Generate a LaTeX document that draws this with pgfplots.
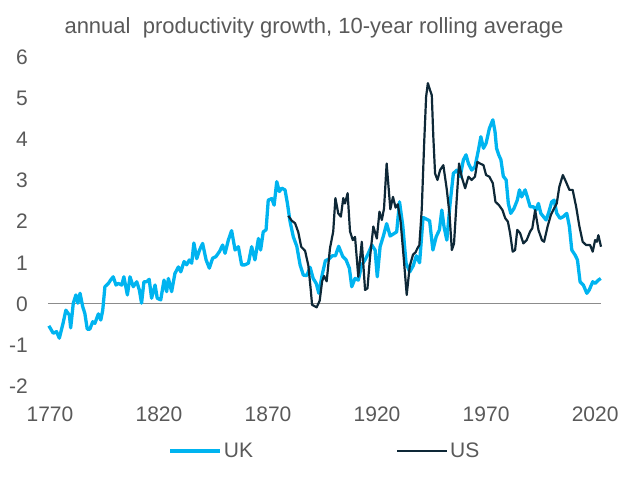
\documentclass[border=0pt]{standalone}
\usepackage{pgfplots}
\pgfplotsset{compat=1.18}
\usepackage{fontspec}
\setmainfont{Liberation Sans}
\definecolor{ukc}{HTML}{00B4F0}
\definecolor{usc}{HTML}{0E2837}
\definecolor{txt}{HTML}{595959}
\definecolor{zl}{HTML}{8C8C8C}
\begin{document}
\begin{tikzpicture}
\begin{axis}[
  scale only axis, width=553pt, height=329.6pt,
  xmin=1769.1, xmax=2022.7, ymin=-2, ymax=6,
  axis line style={draw=none}, tick style={draw=none},
  xtick={1770,1820,1870,1920,1970,2020},
  xticklabels={1770,1820,1870,1920,1970,2020},
  ytick={-2,-1,0,1,2,3,4,5,6},
  yticklabels={-2,-1,0,1,2,3,4,5,6},
  ticklabel style={font=\fontsize{21}{25}\selectfont, text=txt, inner sep=0pt},
  yticklabel style={anchor=east, xshift=-20pt},
  xticklabel style={anchor=north, yshift=-20.6pt},
  legend columns=2,
  legend style={at={(0.5009,-0.196)}, anchor=center, draw=none, fill=none,
    font=\fontsize{21}{25}\selectfont, text=txt,
    /tikz/every even column/.append style={column sep=141pt}},
  legend image code/.code={\draw[#1] (0pt,0pt) -- (50pt,0pt);},
  clip=false,
]
\draw[zl, line width=1pt] (axis cs:1769.1,0) -- (axis cs:2022.7,0);
\addplot[ukc, line width=3.3pt, line join=round] coordinates {
(1769.5,-0.53) (1771.5,-0.71) (1773,-0.67) (1774.3,-0.83) (1776,-0.47) (1777.3,-0.15)
(1778.9,-0.27) (1779.5,-0.58) (1780.7,0.02) (1781.9,0.22) (1782.8,0.02) (1783.8,0.26)
(1785,-0.06) (1786,-0.23) (1787.1,-0.61) (1788.3,-0.61) (1789.6,-0.43) (1790.6,-0.47)
(1792.2,-0.24) (1793.3,-0.39) (1794.2,-0.15) (1795.2,0.42) (1796.8,0.5) (1797.8,0.58)
(1799,0.66) (1800.3,0.46) (1801.3,0.5) (1802.9,0.46) (1803.9,0.66) (1805.5,0.22)
(1806.7,0.66) (1808.2,0.42) (1809.8,0.54) (1811,0.34) (1812,0.02) (1813.1,0.54)
(1814.4,0.54) (1815.5,0.6) (1816.6,0.14) (1818.2,0.46) (1819.2,0.14) (1820.8,0.1)
(1822.3,0.58) (1823.5,0.3) (1824.3,0.62) (1825.8,0.3) (1827.3,0.74) (1828.9,0.9)
(1830,0.78) (1831.5,1.03) (1832.7,0.95) (1833.9,1.07) (1835,0.99) (1836,1.48)
(1837.3,1.1) (1838.6,1.31) (1840,1.47) (1841.6,1.07) (1843.1,0.87) (1844.6,1.11)
(1846.1,1.15) (1847.7,1.27) (1849.2,1.43) (1850.3,1.23) (1851.8,1.55) (1853.3,1.78)
(1854.9,1.31) (1856.4,1.39) (1857.9,0.95) (1859.4,0.95) (1861,0.99) (1862.5,1.39)
(1864,1.07) (1865.6,1.59) (1866.6,1.31) (1867.8,1.75) (1869.1,1.8) (1870.1,2.52)
(1871.7,2.56) (1872.8,2.4) (1874,2.97) (1875.2,2.73) (1876.3,2.81) (1877.8,2.77)
(1878.9,2.44) (1880.1,2.0) (1881.6,1.63) (1883.2,1.4) (1884.7,0.95) (1886.2,0.7)
(1887.8,0.69) (1889.3,0.89) (1890.7,0.62) (1892.1,0.5) (1893.3,0.26) (1894.8,0.7)
(1896.3,1.05) (1897.9,1.09) (1899.4,1.17) (1900.9,1.17) (1902.4,1.4) (1904.3,1.15)
(1905.8,1.07) (1907.3,0.87) (1908.4,0.42) (1909.9,0.62) (1911.4,0.58) (1913,0.95)
(1914.5,1.07) (1916,1.23) (1917.6,1.43) (1919.1,1.31) (1920.1,0.66) (1921.4,1.39)
(1922.9,1.65) (1924.4,1.95) (1926,1.65) (1927.5,1.7) (1929,1.75) (1930.3,2.48)
(1931.8,1.9) (1933.3,0.99) (1935,0.78) (1936.6,0.93) (1938,1.17) (1939.5,1.0)
(1941.1,2.1) (1942.6,2.06) (1944.1,2.02) (1945.6,1.31) (1947.1,1.63) (1948.6,1.8)
(1949.7,2.28) (1950.7,1.88) (1952,1.55) (1953.5,2.44) (1955,3.17) (1956.6,3.25)
(1958.1,3.09) (1959.6,3.5) (1960.8,3.62) (1961.9,3.41) (1963.4,3.25) (1964.9,3.33)
(1966.5,3.74) (1967.6,4.06) (1968.8,3.78) (1970,3.9) (1971.5,4.26) (1973.1,4.47)
(1974.1,4.18) (1974.8,3.78) (1975.8,3.62) (1976.8,3.5) (1977.9,3.1) (1979.2,3.01)
(1980.2,2.44) (1981.3,2.2) (1982.8,2.32) (1984.3,2.52) (1985.3,2.77) (1986.3,2.6)
(1987.9,2.77) (1988.9,2.6) (1990.2,2.36) (1991.7,2.36) (1992.9,2.28) (1994,2.44)
(1995.1,2.2) (1996.3,2.12) (1997.5,2.04) (1998.6,2.2) (2000.1,2.48) (2001.2,2.52)
(2002.4,2.2) (2003.9,2.08) (2005.4,2.12) (2007,2.2) (2008.2,1.88) (2009.3,1.31)
(2010.8,1.19) (2011.9,1.07) (2013.1,0.54) (2014.6,0.46) (2016.2,0.26) (2017.3,0.34)
(2018.9,0.54) (2020,0.5) (2021.5,0.58) (2022.6,0.62)
};
\addlegendentry{UK}
\addplot[usc, line width=2.2pt, line join=round] coordinates {
(1879.3,2.14) (1880.9,2.02) (1882.4,1.96) (1883.9,1.74) (1885.2,1.39) (1887,1.29)
(1888.5,0.93) (1889.6,0.34) (1890.2,-0.02) (1892.3,-0.08) (1893.7,0.08) (1894.8,0.55)
(1895.7,0.68) (1896.9,0.55) (1898.4,1.35) (1899.9,1.76) (1900.9,2.57) (1902.2,2.2)
(1903.4,2.12) (1904.5,2.57) (1905.3,2.44) (1906.5,2.69) (1907.6,1.76) (1908.9,1.55)
(1909.9,1.63) (1911.4,0.66) (1913,1.51) (1914.5,0.34) (1915.6,0.38) (1916.8,1.15)
(1918.3,1.88) (1919.9,1.59) (1921.1,2.24) (1922.2,2.04) (1923.2,2.32) (1924.4,3.41)
(1926.1,2.3) (1927.3,2.6) (1928.5,2.34) (1929.5,2.42) (1930.8,2.0) (1932.1,1.2)
(1933.6,0.22) (1935,0.92) (1936.5,1.2) (1937.6,1.25) (1938.5,1.35) (1939.4,1.43)
(1940.5,2.3) (1941.6,3.9) (1942.5,5.03) (1943.3,5.36) (1944.3,5.19) (1945.1,5.07)
(1945.8,4.06) (1946.6,3.17) (1947.7,3.01) (1948.9,3.25) (1950.4,3.37) (1952,2.77)
(1953.2,2.2) (1954.3,1.31) (1955.3,1.47) (1956.6,2.6) (1957.6,3.41) (1958.8,3.09)
(1960.4,2.81) (1961.9,3.09) (1963.4,3.01) (1964.9,3.09) (1966,3.45) (1967.2,3.41)
(1968.8,3.37) (1970,3.13) (1971.5,3.09) (1973.1,2.93) (1974.3,2.48) (1975.9,2.4)
(1977.5,2.28) (1978.8,2.08) (1980,2.0) (1981,1.72) (1982.2,1.27) (1983.3,1.31)
(1984.3,1.8) (1985.6,1.72) (1987.1,1.47) (1988.6,1.55) (1990.2,1.76) (1991.2,1.84)
(1992.5,2.28) (1994,1.8) (1995.6,1.55) (1996.6,1.51) (1998.2,1.88) (1999.7,2.16)
(2001.2,2.32) (2002.4,2.44) (2003.6,2.85) (2005.2,3.13) (2006.6,2.97) (2008.2,2.77)
(2009.7,2.77) (2011.3,2.36) (2012.8,1.88) (2014.3,1.51) (2015.9,1.43) (2017.7,1.43)
(2018.9,1.27) (2020,1.55) (2020.8,1.51) (2021.5,1.67) (2022.7,1.39)
};
\addlegendentry{US}
\end{axis}
\node[anchor=base, font=\fontsize{22}{26}\selectfont, text=txt] at ([shift={(266pt,22.8pt)}]current axis.north west) {annual~ productivity growth, 10-year rolling average};
\pgfresetboundingbox
\path[use as bounding box] ([shift={(-48pt,-100.6pt)}]current axis.south west) rectangle ([shift={(36pt,56.8pt)}]current axis.north east);
\end{tikzpicture}
\end{document}
